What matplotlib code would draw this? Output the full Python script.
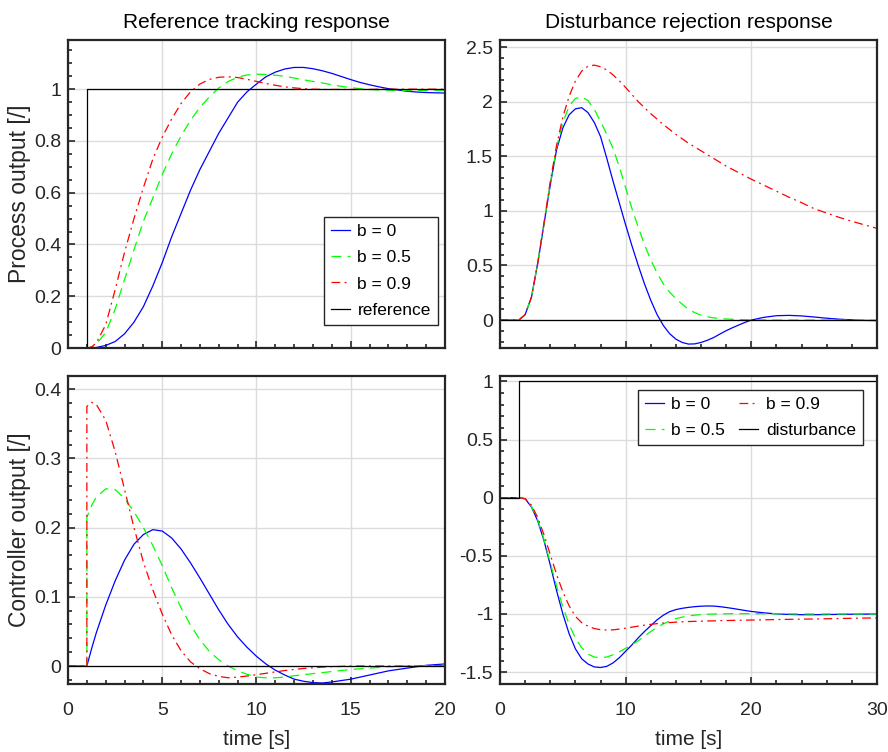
import matplotlib
matplotlib.use('Agg')
import matplotlib.pyplot as plt
from matplotlib.ticker import MultipleLocator, FuncFormatter

plt.rcParams['font.family'] = ['Liberation Sans', 'DejaVu Sans']
plt.rcParams['axes.unicode_minus'] = False

# ---- reference tracking (left column) ----
t_track = [0, 1, 1, 1.25, 1.5, 2, 2.5, 3, 3.5, 4, 4.5, 5, 5.5, 6, 6.5, 7, 7.5, 8, 8.5, 9, 9.5,
           10, 10.5, 11, 11.5, 12, 12.5, 13, 13.5, 14, 14.5, 15, 15.5, 16, 16.5, 17, 17.5,
           18, 18.5, 19, 19.5, 20]

y_b0 = [0, 0, 0, 0.0, 0.002, 0.01, 0.025, 0.055, 0.1, 0.16, 0.24, 0.33, 0.43, 0.52, 0.61, 0.69,
        0.76, 0.83, 0.89, 0.95, 0.99, 1.02, 1.048, 1.066, 1.078, 1.084, 1.084, 1.079, 1.071,
        1.061, 1.049, 1.037, 1.026, 1.017, 1.009, 1.002, 0.997, 0.992, 0.989, 0.987, 0.986, 0.985]
y_b5 = [0, 0, 0, 0.003, 0.015, 0.06, 0.15, 0.265, 0.38, 0.49, 0.58, 0.67, 0.75, 0.82, 0.88, 0.93,
        0.97, 1.005, 1.03, 1.046, 1.055, 1.058, 1.057, 1.054, 1.05, 1.043, 1.036, 1.03, 1.024,
        1.017, 1.011, 1.006, 1.002, 0.999, 0.997, 0.996, 0.995, 0.995, 0.995, 0.995, 0.996, 0.996]
y_b9 = [0, 0, 0, 0.004, 0.02, 0.09, 0.225, 0.37, 0.5, 0.62, 0.73, 0.815, 0.885, 0.945, 0.99, 1.02,
        1.038, 1.046, 1.048, 1.045, 1.038, 1.03, 1.022, 1.015, 1.009, 1.005, 1.002, 1.0, 0.999,
        0.999, 0.999, 0.999, 0.999, 0.999, 1.0, 1.0, 1.0, 1.0, 1.0, 1.0, 1.0, 1.0]

u_b0 = [0, 0, 0, 0.025, 0.048, 0.088, 0.123, 0.153, 0.176, 0.19, 0.197, 0.195, 0.185, 0.169, 0.149,
        0.127, 0.104, 0.081, 0.06, 0.042, 0.027, 0.014, 0.003, -0.006, -0.013, -0.019, -0.022,
        -0.024, -0.0245, -0.023, -0.021, -0.019, -0.016, -0.013, -0.01, -0.007, -0.005, -0.003,
        -0.001, 0.001, 0.002, 0.003]
u_b5 = [0, 0, 0.215, 0.232, 0.244, 0.256, 0.255, 0.242, 0.223, 0.2, 0.174, 0.145, 0.113, 0.084,
        0.059, 0.038, 0.021, 0.009, 0.0, -0.007, -0.012, -0.016, -0.017, -0.017, -0.016, -0.014,
        -0.0125, -0.011, -0.0095, -0.008, -0.0065, -0.005, -0.004, -0.003, -0.002, -0.001,
        -0.0005, 0.0, 0.0, 0.0005, 0.0005, 0.001]
u_b9 = [0, 0, 0.375, 0.381, 0.378, 0.355, 0.31, 0.255, 0.2, 0.15, 0.11, 0.075, 0.045, 0.022, 0.006,
        -0.004, -0.011, -0.015, -0.017, -0.016, -0.0145, -0.0125, -0.0105, -0.0085, -0.0065,
        -0.005, -0.0035, -0.0025, -0.0015, -0.001, -0.0005, 0, 0, 0, 0, 0, 0, 0, 0, 0, 0, 0]

ref_t = [0, 1, 20]
ref_val = [0, 1, 1]

# ---- disturbance rejection (right column) ----
t_dist = [0, 1, 1.5, 2, 2.5, 3, 3.5, 4, 4.5, 5, 5.5, 6, 6.5, 7, 7.5, 8, 8.5, 9, 9.5, 10, 10.5,
          11, 11.5, 12, 12.5, 13, 13.5, 14, 14.5, 15, 15.5, 16, 16.5, 17, 17.5, 18, 18.5, 19,
          19.5, 20, 21, 22, 23, 24, 25, 26, 27, 28, 29, 30]

yd_b0 = [0, 0, 0, 0.05, 0.21, 0.52, 0.88, 1.24, 1.56, 1.76, 1.88, 1.935, 1.945, 1.9, 1.81, 1.68,
         1.48, 1.27, 1.07, 0.87, 0.68, 0.5, 0.33, 0.18, 0.05, -0.05, -0.125, -0.175, -0.205,
         -0.22, -0.218, -0.205, -0.185, -0.16, -0.128, -0.097, -0.07, -0.045, -0.021, 0.0,
         0.025, 0.04, 0.043, 0.038, 0.028, 0.017, 0.008, 0.002, -0.003, -0.005]
yd_b5 = [0, 0, 0, 0.05, 0.21, 0.52, 0.88, 1.25, 1.58, 1.81, 1.96, 2.03, 2.045, 2.01, 1.93, 1.82,
         1.7, 1.57, 1.4, 1.21, 1.02, 0.85, 0.69, 0.55, 0.43, 0.33, 0.255, 0.195, 0.145, 0.1,
         0.068, 0.045, 0.03, 0.02, 0.014, 0.01, 0.007, 0.005, 0.003, 0.002, 0.001, 0, 0, 0, 0,
         0, 0, 0, 0, 0]
yd_b9 = [0, 0, 0, 0.05, 0.21, 0.52, 0.89, 1.27, 1.6, 1.86, 2.05, 2.19, 2.28, 2.325, 2.335, 2.32,
         2.29, 2.245, 2.19, 2.13, 2.065, 2.0, 1.945, 1.89, 1.84, 1.79, 1.745, 1.7, 1.66, 1.62,
         1.585, 1.55, 1.515, 1.48, 1.445, 1.41, 1.38, 1.35, 1.32, 1.29, 1.235, 1.18, 1.125,
         1.075, 1.02, 0.98, 0.94, 0.905, 0.872, 0.84]

ud_b0 = [0, 0, 0, -0.01, -0.08, -0.2, -0.37, -0.58, -0.8, -1.0, -1.17, -1.3, -1.385, -1.43,
         -1.455, -1.46, -1.45, -1.42, -1.375, -1.32, -1.265, -1.205, -1.15, -1.1, -1.05, -1.01,
         -0.98, -0.962, -0.951, -0.943, -0.937, -0.933, -0.931, -0.932, -0.937, -0.944, -0.952,
         -0.961, -0.97, -0.978, -0.99, -0.999, -1.004, -1.006, -1.006, -1.005, -1.003, -1.002,
         -1.001, -1.0]
ud_b5 = [0, 0, 0, -0.01, -0.075, -0.19, -0.36, -0.56, -0.76, -0.94, -1.09, -1.21, -1.29, -1.345,
         -1.37, -1.375, -1.37, -1.35, -1.325, -1.295, -1.263, -1.23, -1.19, -1.15, -1.115,
         -1.085, -1.06, -1.04, -1.027, -1.017, -1.01, -1.005, -1.002, -1.0, -0.999, -0.998,
         -0.997, -0.997, -0.997, -0.997, -0.997, -0.998, -0.999, -1.0, -1.0, -1.0, -1.0, -1.0,
         -1.0, -1.0]
ud_b9 = [0, 0, 0, -0.008, -0.065, -0.17, -0.32, -0.49, -0.66, -0.81, -0.93, -1.02, -1.075,
         -1.105, -1.125, -1.135, -1.138, -1.136, -1.13, -1.122, -1.113, -1.104, -1.096, -1.089,
         -1.083, -1.078, -1.074, -1.07, -1.067, -1.065, -1.063, -1.062, -1.06, -1.059, -1.057,
         -1.056, -1.055, -1.054, -1.053, -1.052, -1.05, -1.048, -1.046, -1.044, -1.043, -1.041,
         -1.039, -1.037, -1.035, -1.034]

dist_t = [0, 1.5, 30]
dist_val = [0, 1, 1]

# ---- styling ----
dark = '#262626'
blue = dict(color='#0000ff', lw=0.9)
green = dict(color='#00ff00', lw=0.9, dashes=(8, 5))
red = dict(color='#ff0000', lw=0.9, dashes=(7, 3.5, 1.5, 3.5))
black = dict(color='black', lw=0.9)

fmt = FuncFormatter(lambda v, p: '%g' % (0 if abs(v) < 1e-9 else round(v, 6)))


def style(ax, xmax, xmaj, xmin, ymaj, ymin, ylim):
    ax.set_xlim(0, xmax)
    ax.set_ylim(*ylim)
    ax.xaxis.set_major_locator(MultipleLocator(xmaj))
    ax.xaxis.set_minor_locator(MultipleLocator(xmin))
    ax.yaxis.set_major_locator(MultipleLocator(ymaj))
    ax.yaxis.set_minor_locator(MultipleLocator(ymin))
    ax.yaxis.set_major_formatter(fmt)
    ax.xaxis.set_major_formatter(fmt)
    ax.grid(True, which='major', color='#dcdcdc', lw=1.0)
    ax.set_axisbelow(True)
    ax.tick_params(which='both', direction='in', top=False, right=False,
                   colors=dark, labelsize=14, width=1.2)
    ax.tick_params(which='major', length=5)
    ax.tick_params(which='minor', length=3)
    ax.tick_params(axis='y', pad=5)
    ax.tick_params(axis='x', pad=13)
    for s in ax.spines.values():
        s.set_color(dark)
        s.set_linewidth(1.6)


fig = plt.figure(figsize=(8.88, 7.52), dpi=100)
w, h = 0.4245, 0.4096
ax1 = fig.add_axes([0.0766, 0.5372, w, h])
ax2 = fig.add_axes([0.5631, 0.5372, w, h])
ax3 = fig.add_axes([0.0766, 0.0904, w, h])
ax4 = fig.add_axes([0.5631, 0.0904, w, h])

# process output, reference tracking
ax1.plot(t_track, y_b0, label='b = 0', **blue)
ax1.plot(t_track, y_b5, label='b = 0.5', **green)
ax1.plot(t_track, y_b9, label='b = 0.9', **red)
ax1.plot(ref_t, ref_val, drawstyle='steps-post', label='reference', **black)
style(ax1, 20, 5, 1, 0.2, 0.05, (0, 1.19))
ax1.tick_params(labelbottom=False)
ax1.set_title('Reference tracking response', fontsize=15, color='black', pad=9)
ax1.set_ylabel('Process output [/]', fontsize=16.5, color=dark, labelpad=2)
leg1 = ax1.legend(loc='lower right', bbox_to_anchor=(0.981, 0.075), borderaxespad=0,
                  fontsize=12.5, fancybox=False, framealpha=1, edgecolor=dark,
                  handlelength=1.1, handletextpad=0.45, labelspacing=0.65)
leg1.get_frame().set_linewidth(1.0)

# process output, disturbance rejection
ax2.plot(t_dist, yd_b0, **blue)
ax2.plot(t_dist, yd_b5, **green)
ax2.plot(t_dist, yd_b9, **red)
ax2.plot([0, 30], [0, 0], **black)
style(ax2, 30, 10, 2, 0.5, 0.1, (-0.256, 2.565))
ax2.tick_params(labelbottom=False)
ax2.set_title('Disturbance rejection response', fontsize=15, color='black', pad=9)

# controller output, reference tracking
ax3.plot(t_track, u_b0, **blue)
ax3.plot(t_track, u_b5, **green)
ax3.plot(t_track, u_b9, **red)
ax3.plot([0, 20], [0, 0], **black)
style(ax3, 20, 5, 1, 0.1, 0.02, (-0.026, 0.419))
ax3.set_ylabel('Controller output [/]', fontsize=16.5, color=dark, labelpad=2)
ax3.set_xlabel('time [s]', fontsize=15, color=dark, labelpad=8)

# controller output, disturbance rejection
ax4.plot(t_dist, ud_b0, label='b = 0', **blue)
ax4.plot(t_dist, ud_b5, label='b = 0.5', **green)
ax4.plot(t_dist, ud_b9, label='b = 0.9', **red)
ax4.plot(dist_t, dist_val, drawstyle='steps-post', label='disturbance', **black)
style(ax4, 30, 10, 2, 0.5, 0.1, (-1.602, 1.046))
ax4.set_xlabel('time [s]', fontsize=15, color=dark, labelpad=8)
leg4 = ax4.legend(loc='upper right', bbox_to_anchor=(0.963, 0.955), borderaxespad=0, ncol=2,
                  fontsize=12.5, fancybox=False, framealpha=1, edgecolor=dark,
                  handlelength=1.1, handletextpad=0.45, labelspacing=0.65, columnspacing=0.8)
leg4.get_frame().set_linewidth(1.0)

fig.savefig('out.png', dpi=100)
